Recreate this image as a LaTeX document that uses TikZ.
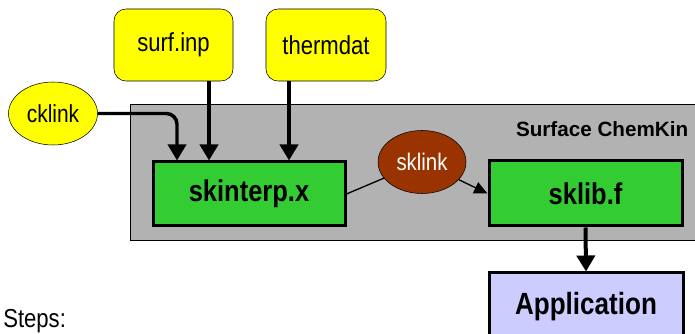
\documentclass[tikz,border=0pt]{standalone}
\usepackage{fontspec}
\setmainfont{Liberation Sans}[FakeStretch=0.85]
\newfontfamily\widefont{Liberation Sans}
\usetikzlibrary{arrows.meta,shapes.geometric}
\definecolor{fileyellow}{HTML}{FFFF00}
\definecolor{proggreen}{HTML}{33CC33}
\definecolor{linkbrown}{HTML}{993300}
\definecolor{applilac}{HTML}{CCCCFF}
\definecolor{chemgrey}{HTML}{B2B2B2}

\begin{document}
\begin{tikzpicture}[x=0.75pt,y=-0.75pt,
  infile/.style={draw, fill=fileyellow, rounded corners=9pt, inner sep=0,
    minimum width=89.25pt, minimum height=54pt, font=\fontsize{19.5}{23}\selectfont},
  linkell/.style={ellipse, draw, inner sep=0, minimum width=66.75pt, minimum height=47.25pt},
  prog/.style={draw, line width=2.25pt, fill=proggreen, inner sep=0,
    minimum width=144pt, minimum height=48pt, font=\bfseries\fontsize{22.5}{26}\selectfont},
  bigarrow/.style={-{Triangle[width=13.5pt,length=12pt]}, line width=3pt},
  smallarrow/.style={-{Triangle[width=9pt,length=10pt]}, line width=1pt}]
\clip (0,0) rectangle (695,334);

% SURFACE CHEMKIN REGION
\filldraw[fill=chemgrey, draw=black, line width=0.75pt] (130,105) rectangle (700,241);
\node[anchor=east, font=\widefont\bfseries\fontsize{15.5}{18}\selectfont] (title) at (693,129) {Surface ChemKin};

% INPUT FILES
\node[infile] (surf) at (173.5,45) {surf.inp};
\node[infile, minimum width=90pt] (therm) at (326,45) {thermdat};
\node[linkell, fill=fileyellow, font=\fontsize{18.5}{22}\selectfont] (cklink) at (53,113.5) {cklink};

% PROGRAMS
\node[prog] (skinterp) at (249,194) {skinterp.x};
\node[prog, minimum width=144.75pt, minimum height=48.75pt] (sklib) at (585.5,193.5) {sklib.f};
\node[linkell, fill=linkbrown, text=white, minimum width=66pt, font=\fontsize{18}{21}\selectfont] (sklink) at (422,162) {sklink};
\node[prog, fill=applilac, minimum width=145.5pt, minimum height=60pt, text depth=14pt,
  font=\bfseries\fontsize{23}{27}\selectfont] (app) at (586,313) {Application};

% CONNECTIONS
\coordinate (xck) at (177,0);
\coordinate (xsurf) at (209,0);
\coordinate (xtherm) at (289,0);
\draw[bigarrow, line width=2.6pt, rounded corners=8pt] (cklink.east) -| (skinterp.north -| xck);
\draw[bigarrow] (surf.south -| xsurf) -- (skinterp.north -| xsurf);
\draw[bigarrow] (therm.south -| xtherm) -- (skinterp.north -| xtherm);
\draw[line width=1pt] (skinterp.east) -- (sklink);
\draw[smallarrow] (sklink) -- (sklib.west);
\draw[bigarrow] (sklib.south) -- (app.north);

\node[anchor=base west, inner sep=0, font=\fontsize{19.5}{23}\selectfont] (steps) at (3,327) {Steps:};
\end{tikzpicture}
\end{document}
